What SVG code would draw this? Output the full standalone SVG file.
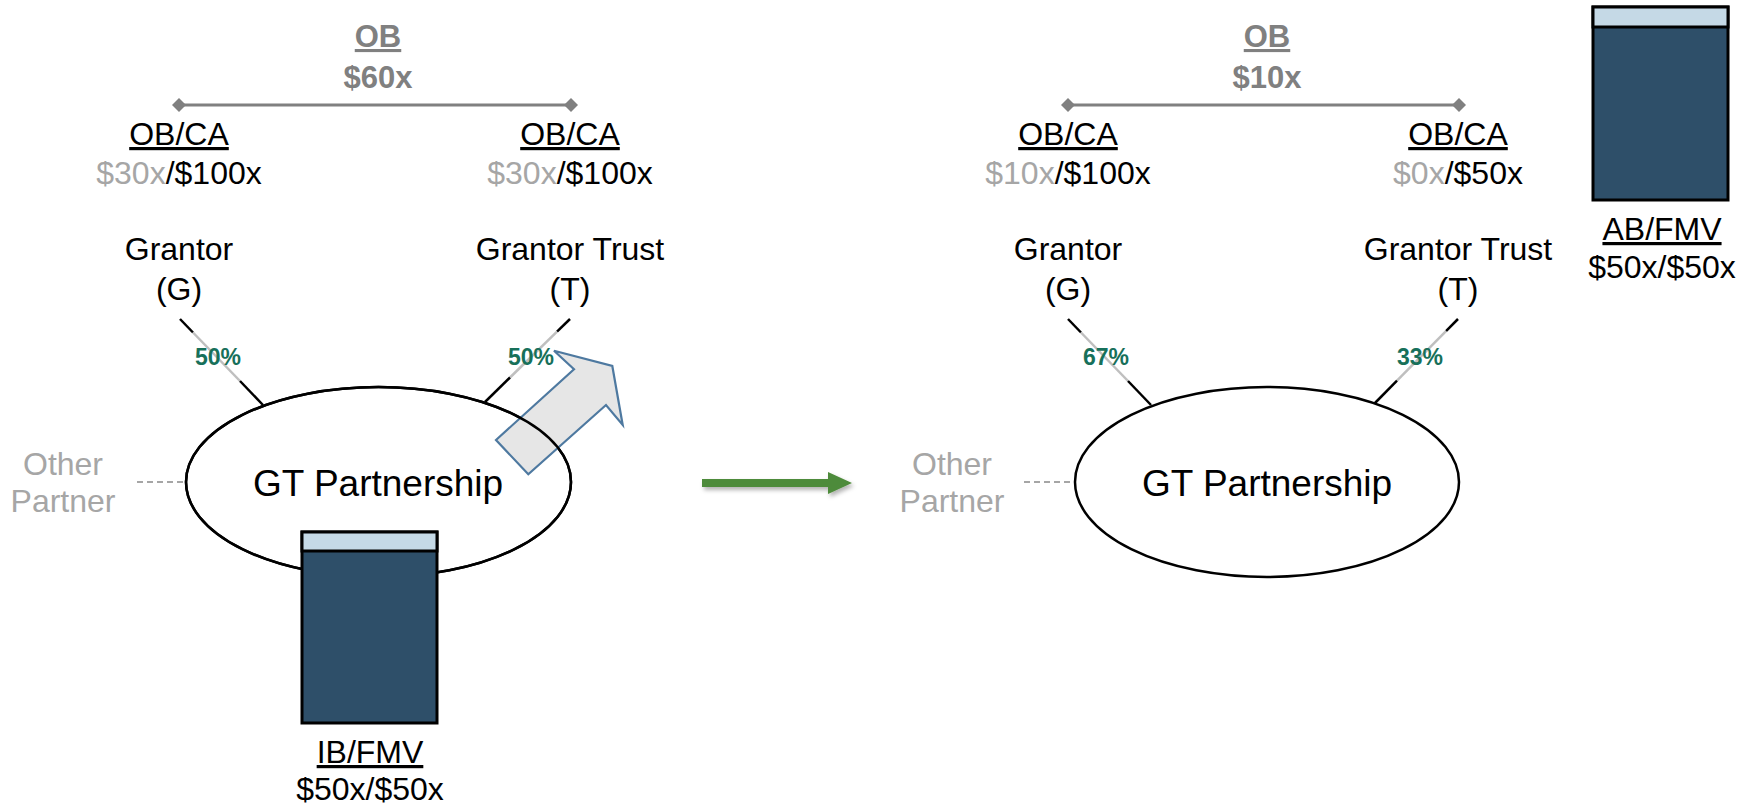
<svg xmlns="http://www.w3.org/2000/svg" width="1752" height="807" viewBox="0 0 1752 807">
<style>
text{font-family:"Liberation Sans",Arial,sans-serif;text-anchor:middle}
.t{font-size:32px;fill:#000}
.g{fill:#a6a6a6}
.u{text-decoration:underline}
.ob{font-size:31px;font-weight:bold;fill:#808080}
.pct{font-size:23px;font-weight:bold;fill:#17705a}
.big{font-size:37px;fill:#000}
.own{stroke:#000;stroke-width:2.5;fill:none}
.hl{stroke:#bfbfbf;stroke-width:2.5;fill:none}
.dash{stroke:#a6a6a6;stroke-width:2;stroke-dasharray:6 4;fill:none}
.brk{stroke:#808080;stroke-width:3;fill:none;marker-start:url(#dia);marker-end:url(#dia)}
.ell{fill:#fff;stroke:#000;stroke-width:2.5}
.ello{fill:none;stroke:#000;stroke-width:2.5}
.dark{fill:#2e4f69;stroke:#000;stroke-width:3}
.light{fill:#c5d9e6;stroke:#000;stroke-width:3}
</style>
<defs>
<marker id="dia" viewBox="-8 -8 16 16" markerWidth="16" markerHeight="16" markerUnits="userSpaceOnUse" refX="0" refY="0" orient="auto">
<path d="M-7 0 L0 -7 L7 0 L0 7 Z" fill="#808080"/>
</marker>
<filter id="sh" x="-10%" y="-50%" width="130%" height="250%">
<feDropShadow dx="2" dy="3" stdDeviation="2" flood-color="#000" flood-opacity="0.3"/>
</filter>
</defs>
<rect width="1752" height="807" fill="#fff"/>

<g id="connectors">
<line class="brk" x1="179" y1="105" x2="571" y2="105"/>
<line class="brk" x1="1068" y1="105" x2="1459" y2="105"/>
<g id="own-left-g">
<line class="own" x1="180" y1="319" x2="193" y2="332.5"/>
<line class="hl" x1="193" y1="332.5" x2="240" y2="381"/>
<line class="own" x1="240" y1="381" x2="263" y2="405"/>
</g>
<g id="own-left-t">
<line class="own" x1="570" y1="319" x2="557" y2="331.7"/>
<line class="hl" x1="557" y1="331.7" x2="510" y2="377.5"/>
<line class="own" x1="510" y1="377.5" x2="485" y2="402"/>
</g>
<g id="own-right-g">
<line class="own" x1="1068" y1="319" x2="1081" y2="332.5"/>
<line class="hl" x1="1081" y1="332.5" x2="1128" y2="381"/>
<line class="own" x1="1128" y1="381" x2="1151" y2="405"/>
</g>
<g id="own-right-t">
<line class="own" x1="1458" y1="319" x2="1446" y2="331.1"/>
<line class="hl" x1="1446" y1="331.1" x2="1397" y2="380.6"/>
<line class="own" x1="1397" y1="380.6" x2="1374" y2="404"/>
</g>
<line class="dash" x1="137" y1="482" x2="186" y2="482"/>
<line class="dash" x1="1024" y1="482" x2="1075" y2="482"/>
<path id="transition-arrow" d="M702 479 H828 V472 L852 483 L828 494 V487 H702 Z" fill="#4e8b3a" filter="url(#sh)"/>
</g>

<g id="left-ob">
<text class="ob u" x="378" y="47">OB</text>
<text class="ob" x="378" y="88">$60x</text>
</g>
<g id="left-g-basis">
<text class="t u" x="179" y="145">OB/CA</text>
<text class="t" x="179" y="184"><tspan class="g">$30x</tspan>/$100x</text>
</g>
<g id="left-t-basis">
<text class="t u" x="570" y="145">OB/CA</text>
<text class="t" x="570" y="184"><tspan class="g">$30x</tspan>/$100x</text>
</g>
<g id="left-grantor">
<text class="t" x="179" y="260">Grantor</text>
<text class="t" x="179" y="300">(G)</text>
</g>
<g id="left-trust">
<text class="t" x="570" y="260">Grantor Trust</text>
<text class="t" x="570" y="300">(T)</text>
</g>
<g id="left-pct">
<text class="pct" x="218" y="365">50%</text>
<text class="pct" x="531" y="365">50%</text>
</g>
<g id="left-other">
<text class="t g" x="63" y="475">Other</text>
<text class="t g" x="63" y="512">Partner</text>
</g>
<g id="left-partnership">
<ellipse class="ell" cx="378.5" cy="482" rx="192.5" ry="95"/>
<text class="big" x="378" y="496">GT Partnership</text>
</g>
<g id="transfer-arrow">
<polygon points="496,440 574,369.3 554,350.7 612.3,366 622.7,425 606,405 528.3,474.3" fill="#e6e6e6" stroke="#4e79a0" stroke-width="2.2" stroke-linejoin="miter"/>
<ellipse class="ello" cx="378.5" cy="482" rx="192.5" ry="95"/>
</g>
<g id="left-asset">
<rect class="dark" x="302" y="532" width="135" height="191"/>
<rect class="light" x="302" y="532" width="135" height="19"/>
<text class="t u" x="370" y="763">IB/FMV</text>
<text class="t" x="370" y="800">$50x/$50x</text>
</g>

<g id="right-ob">
<text class="ob u" x="1267" y="47">OB</text>
<text class="ob" x="1267" y="88">$10x</text>
</g>
<g id="right-g-basis">
<text class="t u" x="1068" y="145">OB/CA</text>
<text class="t" x="1068" y="184"><tspan class="g">$10x</tspan>/$100x</text>
</g>
<g id="right-t-basis">
<text class="t u" x="1458" y="145">OB/CA</text>
<text class="t" x="1458" y="184"><tspan class="g">$0x</tspan>/$50x</text>
</g>
<g id="right-grantor">
<text class="t" x="1068" y="260">Grantor</text>
<text class="t" x="1068" y="300">(G)</text>
</g>
<g id="right-trust">
<text class="t" x="1458" y="260">Grantor Trust</text>
<text class="t" x="1458" y="300">(T)</text>
</g>
<g id="right-pct">
<text class="pct" x="1106" y="365">67%</text>
<text class="pct" x="1420" y="365">33%</text>
</g>
<g id="right-other">
<text class="t g" x="952" y="475">Other</text>
<text class="t g" x="952" y="512">Partner</text>
</g>
<g id="right-partnership">
<ellipse class="ell" cx="1267" cy="482" rx="192" ry="95"/>
<text class="big" x="1267" y="496">GT Partnership</text>
</g>
<g id="right-asset">
<rect class="dark" x="1593" y="7" width="135" height="193"/>
<rect class="light" x="1593" y="7" width="135" height="20"/>
<text class="t u" x="1662" y="240">AB/FMV</text>
<text class="t" x="1662" y="278">$50x/$50x</text>
</g>
</svg>
